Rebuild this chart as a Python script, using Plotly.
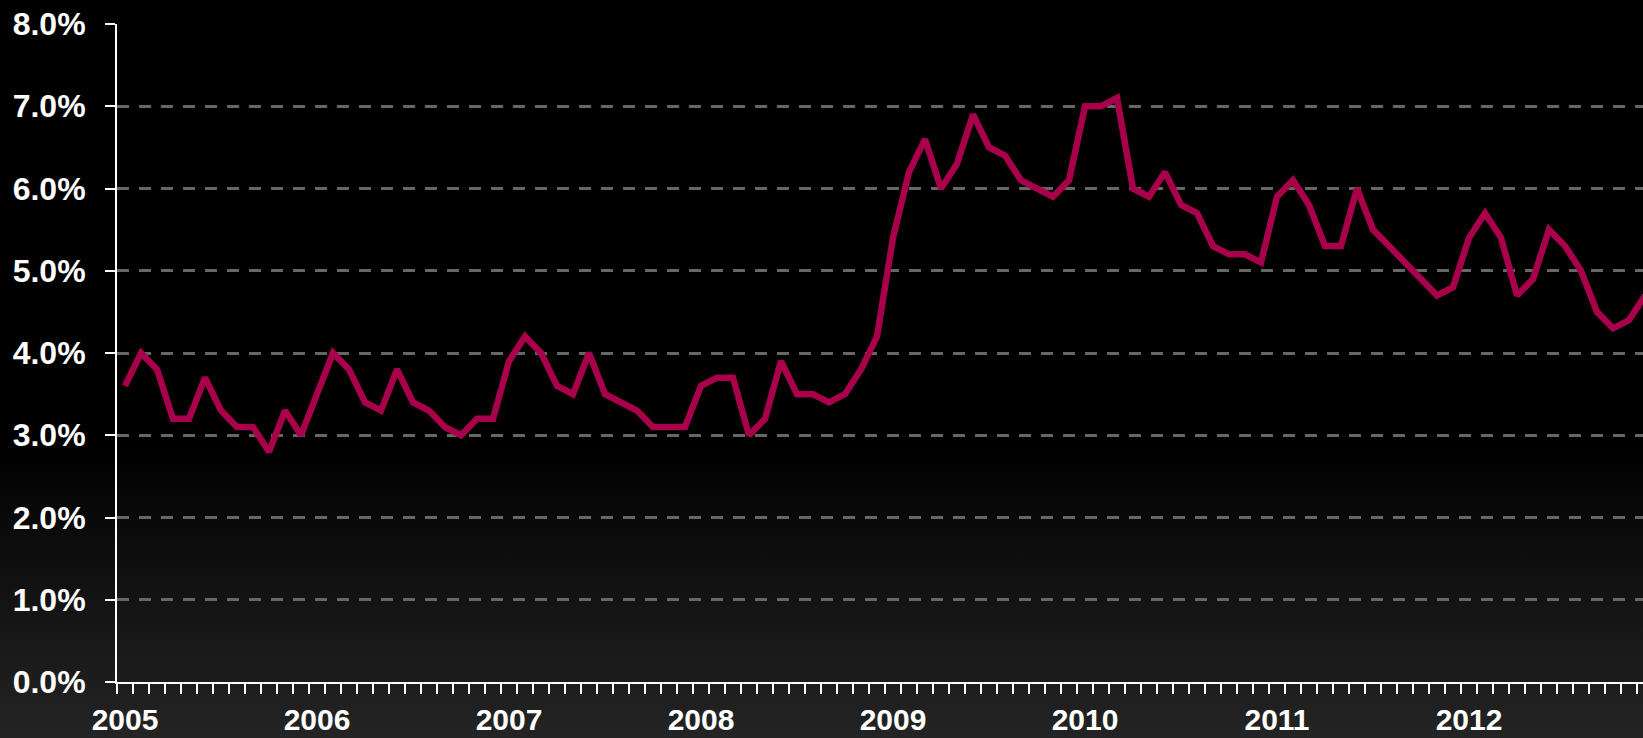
import base64
import plotly.graph_objects as go

# ---- data (monthly, Jan 2005 .. Dec 2012), percent ----
year_labels = ["2005", "2006", "2007", "2008", "2009", "2010", "2011", "2012"]
v2005 = [3.6, 4.0, 3.8, 3.2, 3.2, 3.7, 3.3, 3.1, 3.1, 2.8, 3.3, 3.0]
v2006 = [3.5, 4.0, 3.8, 3.4, 3.3, 3.8, 3.4, 3.3, 3.1, 3.0, 3.2, 3.2]
v2007 = [3.9, 4.2, 4.0, 3.6, 3.5, 4.0, 3.5, 3.4, 3.3, 3.1, 3.1, 3.1]
v2008 = [3.6, 3.7, 3.7, 3.0, 3.2, 3.9, 3.5, 3.5, 3.4, 3.5, 3.8, 4.2]
v2009 = [5.4, 6.2, 6.6, 6.0, 6.3, 6.9, 6.5, 6.4, 6.1, 6.0, 5.9, 6.1]
v2010 = [7.0, 7.0, 7.1, 6.0, 5.9, 6.2, 5.8, 5.7, 5.3, 5.2, 5.2, 5.1]
v2011 = [5.9, 6.1, 5.8, 5.3, 5.3, 6.0, 5.5, 5.3, 5.1, 4.9, 4.7, 4.8]
v2012 = [5.4, 5.7, 5.4, 4.7, 4.9, 5.5, 5.3, 5.0, 4.5, 4.3, 4.4, 4.7]
y_tick_values = [0, 1, 2, 3, 4, 5, 6, 7, 8]
y_tick_labels = ["0.0%", "1.0%", "2.0%", "3.0%", "4.0%", "5.0%", "6.0%", "7.0%", "8.0%"]

values = v2005 + v2006 + v2007 + v2008 + v2009 + v2010 + v2011 + v2012
x_idx = list(range(len(values)))
year_pos = [i * 12 for i in range(len(year_labels))]

W, H = 1643, 738
ML, MR, MT, MB = 117, 0, 24, 56

# gradient background (black top -> dark grey bottom)
svg = (
    f'<svg xmlns="http://www.w3.org/2000/svg" width="{W}" height="{H}" preserveAspectRatio="none">'
    '<defs><linearGradient id="g" x1="0" y1="0" x2="0" y2="1">'
    '<stop offset="0" stop-color="#000000"/>'
    '<stop offset="0.6" stop-color="#000000"/>'
    '<stop offset="1" stop-color="#242424"/>'
    '</linearGradient></defs>'
    f'<rect x="0" y="0" width="{W}" height="{H}" fill="url(#g)"/></svg>'
)
bg_uri = "data:image/svg+xml;base64," + base64.b64encode(svg.encode()).decode()

pw = W - ML - MR
ph = H - MT - MB

fig = go.Figure()
fig.add_trace(go.Scatter(
    x=x_idx, y=values, mode="lines",
    line=dict(color="#A8004B", width=6.5, shape="linear"),
    hoverinfo="skip", showlegend=False,
))

y_font = dict(family="Liberation Sans, Arial, sans-serif", size=32, color="white", weight="bold")
x_font = dict(family="Liberation Sans, Arial, sans-serif", size=30, color="white", weight="bold")

fig.update_layout(
    width=W, height=H,
    margin=dict(l=ML, r=MR, t=MT, b=MB, pad=0, autoexpand=False),
    paper_bgcolor="#000000",
    plot_bgcolor="rgba(0,0,0,0)",
    showlegend=False,
    images=[dict(
        source=bg_uri, xref="paper", yref="paper",
        x=-ML / pw, y=1 + MT / ph, sizex=W / pw, sizey=H / ph,
        xanchor="left", yanchor="top", sizing="stretch", layer="below",
    )],
    xaxis=dict(
        range=[-0.5, -0.5 + pw / 16.0], automargin=False,
        tickmode="array", tickvals=year_pos, ticktext=year_labels,
        ticks="", tickfont=x_font, ticklabelstandoff=10,
        showline=True, linecolor="white", linewidth=2,
        showgrid=False, zeroline=False,
        minor=dict(tickmode="linear", tick0=-0.5, dtick=1, ticks="outside",
                   ticklen=10, tickwidth=2, tickcolor="white", showgrid=False),
    ),
    yaxis=dict(
        range=[0, 8], automargin=False,
        tickmode="array", tickvals=y_tick_values, ticktext=y_tick_labels,
        ticks="outside", ticklen=10, tickwidth=2, tickcolor="white",
        tickfont=y_font, ticklabelstandoff=13,
        showline=True, linecolor="white", linewidth=2,
        showgrid=True, gridcolor="#666666", gridwidth=3, griddash="12px,10px",
        zeroline=False,
    ),
)

fig.write_html(
    "out.html",
    config={"displayModeBar": False, "staticPlot": True},
    post_script="document.body.style.margin='0';document.body.style.padding='0';"
                "document.body.style.overflow='hidden';"
                "document.documentElement.style.overflow='hidden';",
)
